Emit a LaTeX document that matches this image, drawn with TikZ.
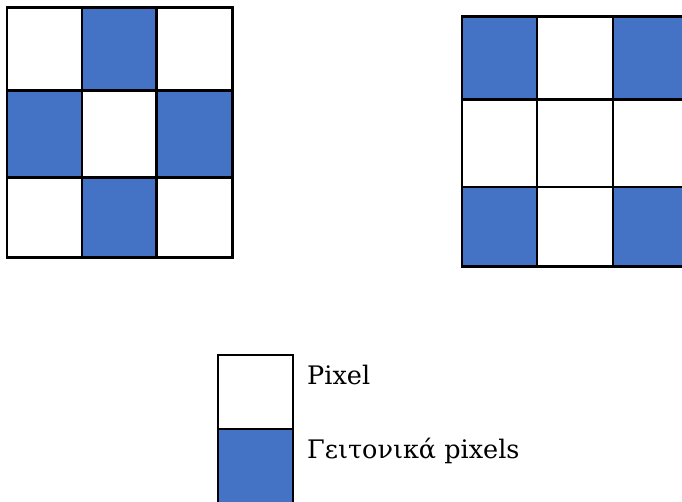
\documentclass[tikz,border=0pt]{standalone}
\usepackage{fontspec}
\newfontfamily\lserif{DejaVu Serif}
\definecolor{nblue}{HTML}{4472C4}
\tikzset{
  gridline/.style={line width=2.8pt, draw=black},
  nbcell/.style={fill=nblue},
  lbl/.style={anchor=base west, inner sep=0pt, font=\lserif\fontsize{25.5}{31}\selectfont}
}
\begin{document}
\begin{tikzpicture}[x=1pt,y=-1pt]
\useasboundingbox (0,0) rectangle (682,501);
\clip (0,0) rectangle (682,501);
% left grid
\fill[nbcell] (82,7.7) rectangle (156.7,90.3);
\fill[nbcell] (7,90.3) rectangle (82,177.7);
\fill[nbcell] (156.7,90.3) rectangle (232.7,177.7);
\fill[nbcell] (82,177.7) rectangle (156.7,257.3);
\draw[gridline] (7,7.7) rectangle (232.7,257.3);
\draw[gridline] (82,7.7) -- (82,257.3) (156.7,7.7) -- (156.7,257.3)
  (7,90.3) -- (232.7,90.3) (7,177.7) -- (232.7,177.7);
% right grid
\fill[nbcell] (462,16.7) rectangle (537,99.7);
\fill[nbcell] (613,16.7) rectangle (700,99.7);
\fill[nbcell] (462,187) rectangle (537,266.3);
\fill[nbcell] (613,187) rectangle (700,266.3);
\draw[gridline] (700,16.7) -- (462,16.7) -- (462,266.3) -- (700,266.3);
\draw[gridline] (537,16.7) -- (537,266.3) (613,16.7) -- (613,266.3)
  (462,99.7) -- (700,99.7) (462,187) -- (700,187);
% legend
\fill[nbcell] (218,429) rectangle (293,520);
\draw[gridline] (218,520) -- (218,355) -- (293,355) -- (293,520);
\draw[gridline] (218,429) -- (293,429);
\node[lbl] (pix) at (307,384) {Pixel};
\node[lbl] (nbr) at (307,458) {Γειτονικά pixels};
\end{tikzpicture}
\end{document}
